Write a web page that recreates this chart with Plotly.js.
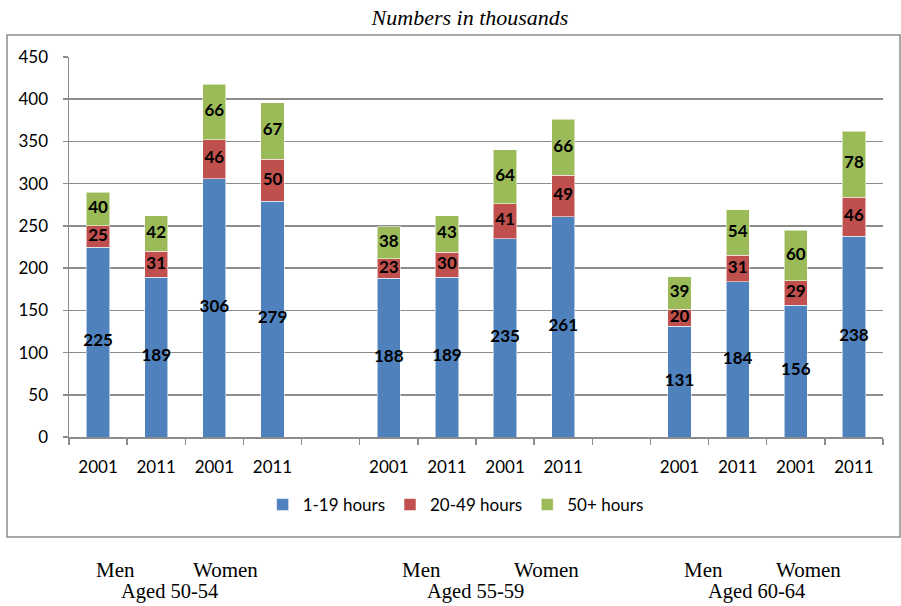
<!DOCTYPE html>
<html>
<head>
<meta charset="utf-8">
<script src="https://cdn.plot.ly/plotly-3.0.1.min.js"></script>
<style>html,body{margin:0;padding:0;background:#fff;}#chart{width:901px;height:606px;}</style>
</head>
<body>
<div id="chart"></div>
<script>
// Tick labels per slot (empty slots separate the age groups)
const slotLabels = ["2001","2011","2001","2011","","2001","2011","2001","2011","","2001","2011","2001","2011"];
const seriesNames = ["1-19 hours","20-49 hours","50+ hours"];
const hours1to19  = [225,189,306,279,null,188,189,235,261,null,131,184,156,238];
const hours20to49 = [25,31,46,50,null,23,30,41,49,null,20,31,29,46];
const hours50plus = [40,42,66,67,null,38,43,64,66,null,39,54,60,78];
const colors = ["#4F81BD","#C0504D","#9BBB59"];
const sexLabels = ["Men","Women"];
const ageLabels = ["Aged 50-54","Aged 55-59","Aged 60-64"];

const xs = slotLabels.map((_, i) => i);
const series = [hours1to19, hours20to49, hours50plus];

const traces = [];
series.forEach((vals, k) => {
  traces.push({
    type: 'bar', x: xs, y: vals, name: seriesNames[k],
    width: 0.4,
    marker: {color: colors[k], line: {color: 'rgba(255,255,255,0.55)', width: 1}},
    hoverinfo: 'y'
  });
});
// data labels centred in each segment
series.forEach((vals, k) => {
  const ys = vals.map((v, i) => {
    if (v === null) return null;
    let base = 0;
    for (let j = 0; j < k; j++) base += series[j][i];
    return base + v / 2;
  });
  traces.push({
    type: 'scatter', mode: 'text', x: xs, y: ys,
    text: vals.map(v => v === null ? '' : String(v)),
    textfont: {family: 'Lato, "Open Sans", sans-serif', size: 17, color: '#000', weight: 'bold'},
    textposition: 'middle center',
    showlegend: false, hoverinfo: 'skip'
  });
});

const serif = '"Liberation Serif", "Times New Roman", serif';
const annX = [[0.308, 2.20, 1.237],[5.554, 7.72, 6.483],[10.42, 12.21, 11.33]];
const annotations = [];
ageLabels.forEach((age, g) => {
  annotations.push({x: annX[g][0], y: -0.35, xref: 'x', yref: 'paper', text: sexLabels[0], showarrow: false, font: {family: serif, size: 21, color: '#000'}, yanchor: 'middle'});
  annotations.push({x: annX[g][1], y: -0.35, xref: 'x', yref: 'paper', text: sexLabels[1], showarrow: false, font: {family: serif, size: 21, color: '#000'}, yanchor: 'middle'});
  annotations.push({x: annX[g][2], y: -0.406, xref: 'x', yref: 'paper', text: age, showarrow: false, font: {family: serif, size: 20.5, color: '#000'}, yanchor: 'middle', borderpad: 0});
});

const layout = {
  width: 901, height: 606,
  margin: {l: 69, r: 18, t: 57, b: 169},
  paper_bgcolor: '#fff', plot_bgcolor: '#fff',
  barmode: 'stack',
  showlegend: true,
  font: {family: 'Lato, "Open Sans", sans-serif', size: 17, color: '#000'},
  title: {text: '<i>Numbers in thousands</i>', x: 470/901, xref: 'container', xanchor: 'center', y: 1 - 17/606, yref: 'container', yanchor: 'middle',
          font: {family: serif, size: 22, color: '#000'}},
  xaxis: {
    range: [-0.5, 13.5], tickmode: 'array', tickvals: xs, ticktext: slotLabels,
    ticks: '', showgrid: false, zeroline: false,
    showline: true, linecolor: '#8c8c8c', linewidth: 1.5,
    ticklabelstandoff: 14,
    tickfont: {family: 'Lato, "Open Sans", sans-serif', size: 17, color: '#000'},
    minor: {tickmode: 'linear', tick0: -0.5, dtick: 1, ticks: 'outside', ticklen: 6, tickcolor: '#8c8c8c', tickwidth: 1.5, showgrid: false}
  },
  yaxis: {
    range: [0, 450], dtick: 50, tick0: 0,
    showgrid: true, gridcolor: '#8c8c8c', gridwidth: 1.5,
    zeroline: false, showline: true, linecolor: '#8c8c8c', linewidth: 1.5,
    ticks: 'outside', ticklen: 5, tickcolor: '#8c8c8c', tickwidth: 1.5,
    ticklabelstandoff: 11,
    tickfont: {family: 'Lato, "Open Sans", sans-serif', size: 17, color: '#000'}
  },
  legend: {orientation: 'h', x: 0.475, xanchor: 'center', y: -0.179, yanchor: 'middle',
           font: {family: 'Lato, "Open Sans", sans-serif', size: 17, color: '#000'}, traceorder: 'normal'},
  shapes: [{type: 'rect', xref: 'paper', yref: 'paper', x0: -0.0762, x1: 1.0209, y0: -0.263, y1: 1.058,
            line: {color: '#8c8c8c', width: 1.5}, layer: 'below'}],
  annotations: annotations
};

Plotly.newPlot('chart', traces, layout, {displayModeBar: false, staticPlot: true});
</script>
</body>
</html>
